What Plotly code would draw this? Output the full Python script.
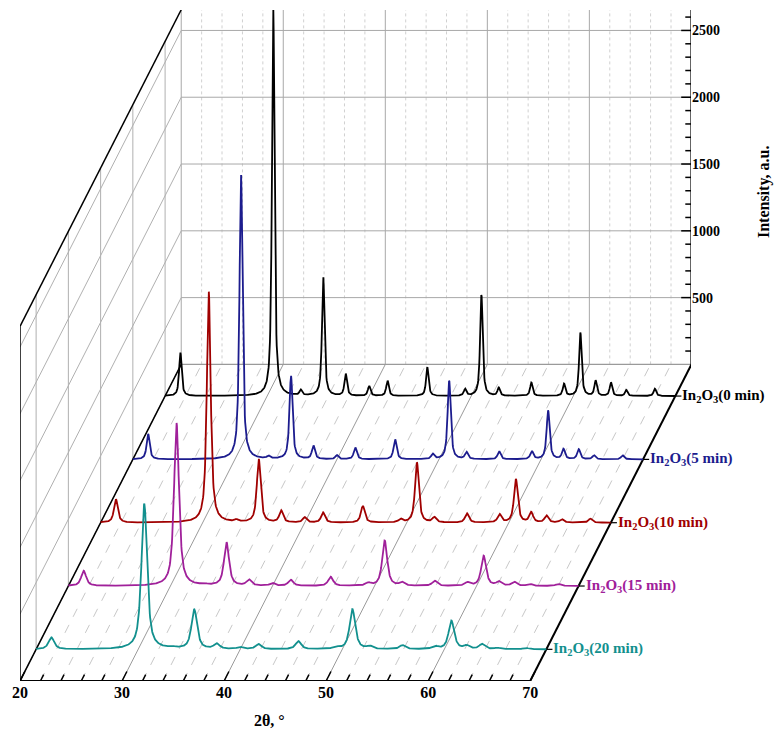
import numpy as np
import plotly.graph_objects as go

# ---- data ----
series_names = ["In<sub>2</sub>O<sub>3</sub>(0 min)", "In<sub>2</sub>O<sub>3</sub>(5 min)",
                "In<sub>2</sub>O<sub>3</sub>(10 min)", "In<sub>2</sub>O<sub>3</sub>(15 min)",
                "In<sub>2</sub>O<sub>3</sub>(20 min)"]
colors = ["#000000", "#1c1c8e", "#a00000", "#a0209a", "#12908e"]
peak_pos = [21.5, 30.6, 33.3, 35.5, 37.7, 40.0, 41.8, 45.7, 49.4, 51.0, 52.7, 55.9, 59.1, 60.7, 62.2, 63.7, 65.2, 68.0]
h_0min  = [325, 2900, 40, 890, 165, 75, 115, 213, 50, 760, 60, 100, 90, 475, 113, 100, 45, 55]
h_5min  = [190, 2130, 20, 625, 100, 30, 88, 150, 38, 590, 52, 60, 60, 365, 75, 75, 30, 30]
h_10min = [175, 1730, 15, 475, 88, 38, 75, 125, 25, 450, 38, 68, 60, 325, 75, 52, 25, 30]
h_15min = [113, 1220, 10, 325, 45, 20, 45, 68, 20, 340, 25, 38, 25, 225, 30, 30, 15, 15]
h_20min = [88, 1090, 10, 295, 38, 15, 38, 60, 15, 300, 20, 30, 20, 213, 25, 38, 10, 10]
heights = [h_0min, h_5min, h_10min, h_15min, h_20min]
fwhm = [0.3, 0.36, 0.45, 0.58, 0.66]
x_ticks = [20, 30, 40, 50, 60, 70]
y_ticks = [500, 1000, 1500, 2000, 2500]

# ---- projection parameters ----
DX, DY = 3.16, 474.0
NDEPTH = 5
BX, BY = NDEPTH * DX, NDEPTH * DY
WALL = 2655
XMIN, XMAX, YMAX = 20, 85.76, 5023

tt = np.linspace(20, 70, 1500)
fig = go.Figure()
shapes = []
def seg(x0, y0, x1, y1, color, w=1, dash="solid"):
    shapes.append(dict(type="line", x0=x0, y0=y0, x1=x1, y1=y1, xref="x", yref="y",
                       line=dict(color=color, width=w, dash=dash), layer="below"))

for t in range(20, 71, 2):
    major = t % 10 == 0
    seg(t, 0, t + BX, BY, "#9a9a9a" if major else "#c8c8c8", 1, "solid" if major else "dash")
for t in range(20, 71, 2):
    major = t % 10 == 0
    seg(t + BX, BY, t + BX, BY + WALL, "#a8a8a8" if major else "#d0d0d0", 1, "solid" if major else "dot")
for v in y_ticks:
    seg(20 + BX, BY + v, 70 + BX, BY + v, "#a8a8a8", 1)
seg(20 + BX, BY, 70 + BX, BY, "#9a9a9a", 1.2)
for k in range(NDEPTH):
    d = k + 0.5
    seg(20 + d * DX, d * DY, 20 + d * DX, d * DY + WALL, "#b0b0b0", 1)
for v in y_ticks:
    seg(20, v, 20 + BX, BY + v, "#b0b0b0", 1)
seg(20, 0, 70, 0, "black", 2)
seg(20, 0, 20 + BX, BY, "black", 1.5)
seg(70, 0, 70 + BX, BY, "black", 2)
seg(20, 0, 20, WALL, "black", 1.5)
seg(20, WALL, 20 + BX, BY + WALL, "black", 1.5)
seg(70 + BX, BY, 70 + BX, YMAX, "black", 2)
for t in range(20, 71, 2):
    f = 0.15 if t % 10 == 0 else 0.1
    seg(t, 0, t + f * DX, f * DY, "black", 1.5)
for v in range(100, 2601, 100):
    L = 1.0 if v % 500 == 0 else 0.6
    seg(70 + BX, BY + v, 70 + BX - L, BY + v, "black", 1.5)

annotations = []
for i in range(5):
    d = 4.5 - i
    g = fwhm[i]
    y = np.zeros_like(tt)
    for p, h in zip(peak_pos, heights[i]):
        y += h * (0.75 / (1 + ((tt - p) / (g / 2)) ** 2) + 0.25 * np.exp(-4 * np.log(2) * ((tt - p) / g) ** 2))
    fig.add_trace(go.Scatter(x=tt + d * DX, y=y + d * DY, mode="lines",
                             line=dict(color=colors[i], width=1.8), showlegend=False, hoverinfo="skip"))
    ex, ey = 70 + d * DX, d * DY
    seg(ex, ey, ex + 0.6, ey, "black", 1.2)
    annotations.append(dict(x=ex + 0.5, y=ey, text="<b>" + series_names[i] + "</b>", showarrow=False,
                            xanchor="left", yanchor="middle",
                            font=dict(family="Liberation Serif", size=15, color=colors[i])))

annotations.append(dict(x=24.5 / 65.76, y=-0.075, xref="paper", yref="paper", text="<b>2θ, °</b>",
                        showarrow=False, font=dict(family="Liberation Serif", size=16, color="black")))
annotations.append(dict(x=1.125, y=0.80, xref="paper", yref="paper", text="<b>Intensity, a.u.</b>", textangle=-90,
                        showarrow=False, font=dict(family="Liberation Serif", size=16, color="black")))

fig.update_layout(
    width=782, height=742, margin=dict(l=12, r=99, t=2, b=69),
    plot_bgcolor="white", paper_bgcolor="white", shapes=shapes, annotations=annotations,
    font=dict(family="Liberation Serif", color="black"),
    xaxis=dict(range=[XMIN, XMAX], tickvals=x_ticks, ticktext=[f"<b>{t}</b>" for t in x_ticks],
               showgrid=False, zeroline=False, showline=False, ticks="", tickfont=dict(size=16),
               automargin=False),
    yaxis=dict(range=[0, YMAX], side="right", tickvals=[BY + v for v in y_ticks],
               ticktext=[f"<b>{v}</b>" for v in y_ticks], showgrid=False, zeroline=False, showline=False,
               ticks="", tickfont=dict(size=14), automargin=False),
)
fig.write_html("out.html")
